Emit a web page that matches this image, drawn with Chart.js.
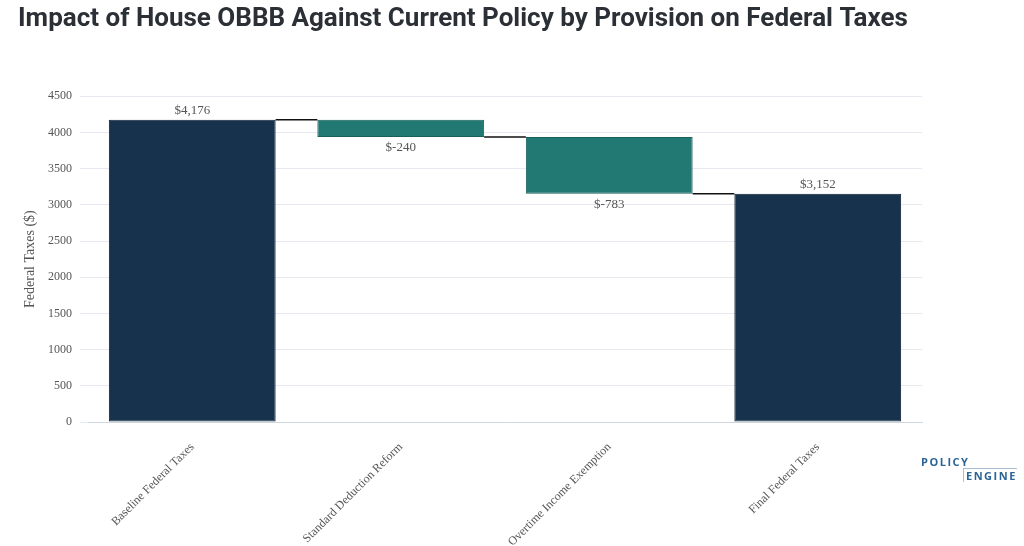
<!DOCTYPE html>
<html>
<head>
<meta charset="utf-8">
<script src="https://cdn.jsdelivr.net/npm/chart.js@4"></script>
<style>
  body { margin: 0; background: #fff; }
  #wrap { position: relative; width: 1024px; height: 546px; }
  #logo { position: absolute; left: 921px; top: 455px; font: bold 11px "Open Sans", sans-serif; color: #2c6496; letter-spacing: 1.5px; line-height: 13px; }
  #logo .l2 { margin-left: 42px; border-left: 1px solid #a9bfd3; border-top: 1px solid #a9bfd3; padding-left: 2px; }
</style>
</head>
<body>
<div id="wrap">
  <canvas id="c" width="1024" height="546"></canvas>
  <div id="logo"><div>POLICY</div><div class="l2">ENGINE</div></div>
</div>
<script>
const categories = ["Baseline Federal Taxes", "Standard Deduction Reform", "Overtime Income Exemption", "Final Federal Taxes"];
const changes = [4176, -240, -783, 3152];
const isTotal = [true, false, false, true];
const yTicks = [0, 500, 1000, 1500, 2000, 2500, 3000, 3500, 4000, 4500];

var ranges = [];
var running = 0;
for (let i = 0; i < changes.length; i++) {
    if (isTotal[i]) {
        ranges.push([0, changes[i]]);
        running = changes[i];
    } else {
        ranges.push([running, running + changes[i]]);
        running += changes[i];
    }
}

const waterfallExtras = {
    id: 'waterfallExtras',
    afterDatasetsDraw(chart) {
        const ctx = chart.ctx;
        const meta = chart.getDatasetMeta(0);
        const y = chart.scales.y;
        ctx.save();
        // connectors
        ctx.strokeStyle = "#111";
        ctx.lineWidth = 1.5;
        for (let i = 0; i < meta.data.length - 1; i++) {
            const a = meta.data[i], b = meta.data[i + 1];
            const yy = y.getPixelForValue(ranges[i][1]);
            ctx.beginPath();
            ctx.moveTo(a.x + a.width / 2, yy);
            ctx.lineTo(b.x - b.width / 2, yy);
            ctx.stroke();
        }
        // labels
        ctx.font = "13px 'Liberation Serif', serif";
        ctx.fillStyle = "#555";
        ctx.textAlign = "center";
        meta.data.forEach((bar, i) => {
            const v = changes[i];
            const txt = "$" + (v < 0 ? "-" + Math.abs(v) : v.toLocaleString("en-US"));
            if (v >= 0) {
                ctx.textBaseline = "bottom";
                ctx.fillText(txt, bar.x, y.getPixelForValue(Math.max(...ranges[i])) - 3);
            } else {
                ctx.textBaseline = "top";
                ctx.fillText(txt, bar.x, y.getPixelForValue(Math.min(...ranges[i])) + 4);
            }
        });
        ctx.restore();
    }
};

new Chart(document.getElementById('c'), {
    type: 'bar',
    data: {
        labels: categories,
        datasets: [{
            data: ranges,
            backgroundColor: isTotal.map(t => t ? "#17324d" : "#227872"),
            borderColor: isTotal.map(t => t ? "#0e2033" : "#17605b"),
            borderWidth: 1,
            borderSkipped: false,
            barPercentage: 0.8,
            categoryPercentage: 1.0
        }]
    },
    options: {
        responsive: false,
        animation: false,
        layout: { padding: { left: 18, right: 102, top: 0, bottom: 0 } },
        plugins: {
            legend: { display: false },
            tooltip: { enabled: false },
            title: {
                display: true,
                text: "Impact of House OBBB Against Current Policy by Provision on Federal Taxes",
                align: 'start',
                color: "#2b2f36",
                font: { family: "Roboto", size: 26, weight: 'bold' },
                padding: { top: 4, bottom: 61 }
            }
        },
        scales: {
            x: {
                grid: { display: false },
                border: { color: "#d0d6de" },
                afterFit: (s) => { s.height = 124; },
                ticks: {
                    color: "#555",
                    font: { family: "Liberation Serif", size: 12 },
                    maxRotation: 45, minRotation: 45,
                    padding: 10
                }
            },
            y: {
                min: 0, max: 4500,
                afterBuildTicks: (s) => { s.ticks = yTicks.map(v => ({ value: v })); },
                afterFit: (s) => { s.width = 70; },
                grid: { color: "#e6eaf0" },
                border: { display: false },
                ticks: {
                    color: "#555",
                    font: { family: "Liberation Serif", size: 12 },
                    padding: 8,
                    callback: (v) => String(v)
                },
                title: {
                    display: true,
                    text: "Federal Taxes ($)",
                    color: "#555",
                    font: { family: "Liberation Serif", size: 14 }
                }
            }
        }
    },
    plugins: [waterfallExtras]
});
</script>
</body>
</html>
